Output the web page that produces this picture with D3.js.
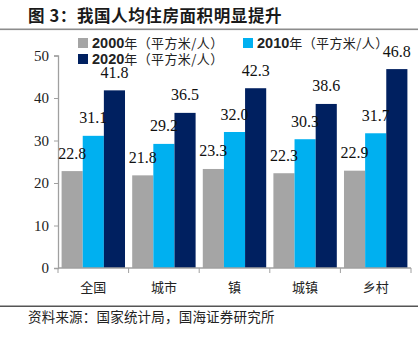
<!DOCTYPE html>
<html><head><meta charset="utf-8">
<script src="https://cdn.jsdelivr.net/npm/d3@7"></script>
<style>body{margin:0;background:#fff}svg{display:block}</style>
</head><body>
<script>
const categories = ["全国","城市","镇","城镇","乡村"];
const seriesNames = ["2000年","2010年","2020年"];
const values2000 = [22.8,21.8,23.3,22.3,22.9];
const values2010 = [31.1,29.2,32.0,30.3,31.7];
const values2020 = [41.8,36.5,42.3,38.6,46.8];
const yTicks = [0,10,20,30,40,50];
const colors = ["#A5A5A5","#00B0F0","#002060"];
const unit = "（平方米/人）";

const W=418,H=338;
const svg=d3.select("body").append("svg").attr("width",W).attr("height",H);
const serif="'Liberation Serif','Times New Roman',serif";
const cjk="'Noto Sans CJK SC','Noto Sans',sans-serif";

// title
svg.append("text").attr("x",28).attr("y",21.5).attr("font-family",cjk).attr("font-weight","bold")
  .attr("font-size",16.5).attr("letter-spacing",0.6).attr("fill","#1a1a1a").text("图 3：我国人均住房面积明显提升");
svg.append("rect").attr("x",0).attr("y",28.5).attr("width",W).attr("height",1.6).attr("fill","#8c8c8c");

const x=d3.scaleBand().domain(categories).range([58,411]).paddingInner(0).paddingOuter(0);
const x1=d3.scaleBand().domain(seriesNames).range([0,x.bandwidth()]).paddingInner(0).paddingOuter(0.17);
const y=d3.scaleLinear().domain([0,50]).range([268,55.5]);

const data=[values2000,values2010,values2020];

// y axis
const ya=svg.append("g").attr("transform","translate(58,0)")
  .call(d3.axisLeft(y).tickValues(yTicks).tickSize(4).tickPadding(5));
ya.select(".domain").attr("stroke","#a0a0a0").attr("stroke-width",1.3);
ya.selectAll(".tick line").attr("stroke","#a0a0a0");
ya.selectAll("text").attr("font-family",serif).attr("font-size",15).attr("fill","#222");

// bars
categories.forEach((c,i)=>{
  seriesNames.forEach((s,j)=>{
    const v=data[j][i];
    svg.append("rect").attr("x",x(c)+x1(s)).attr("y",y(v)).attr("width",x1.bandwidth())
      .attr("height",y(0)-y(v)).attr("fill",colors[j]);
  });
});
// labels
categories.forEach((c,i)=>{
  seriesNames.forEach((s,j)=>{
    const v=data[j][i];
    svg.append("text").attr("x",x(c)+x1(s)+x1.bandwidth()/2).attr("y",y(v)-12.5)
      .attr("text-anchor","middle").attr("font-family",serif).attr("font-size",16).attr("fill","#111")
      .text(v.toFixed(1));
  });
});

// x axis
svg.append("line").attr("x1",58).attr("x2",411).attr("y1",268).attr("y2",268).attr("stroke","#a0a0a0").attr("stroke-width",1.3);
const edges=categories.map(c=>x(c)).concat([x.range()[1]]);
svg.selectAll(".xt").data(edges).enter().append("line").attr("x1",d=>d).attr("x2",d=>d)
  .attr("y1",268).attr("y2",273).attr("stroke","#a0a0a0");
svg.selectAll(".xl").data(categories).enter().append("text")
  .attr("x",d=>x(d)+x.bandwidth()/2).attr("y",292).attr("text-anchor","middle")
  .attr("font-family",cjk).attr("font-size",13).attr("fill","#222").text(d=>d);

// legend
const leg=[{i:0,x:78,y:48},{i:1,x:243,y:48},{i:2,x:78,y:64}];
leg.forEach(l=>{
  svg.append("rect").attr("x",l.x).attr("y",l.y-10).attr("width",10).attr("height",10).attr("fill",colors[l.i]);
  const t=svg.append("text").attr("x",l.x+14).attr("y",l.y).attr("fill","#222");
  t.append("tspan").attr("font-family","'Liberation Sans',Arial,sans-serif").attr("font-weight","bold").attr("font-size",14.5).text(seriesNames[l.i].replace("年",""));
  t.append("tspan").attr("font-family",cjk).attr("font-size",13).attr("letter-spacing",0.4).text("年"+unit);
});

// footer
svg.append("rect").attr("x",0).attr("y",305.5).attr("width",W).attr("height",1.5).attr("fill","#555");
svg.append("text").attr("x",28).attr("y",322).attr("font-family",cjk).attr("font-size",13.5)
  .attr("letter-spacing",0.2).attr("fill","#222").text("资料来源：国家统计局，国海证券研究所");
</script>
</body></html>
